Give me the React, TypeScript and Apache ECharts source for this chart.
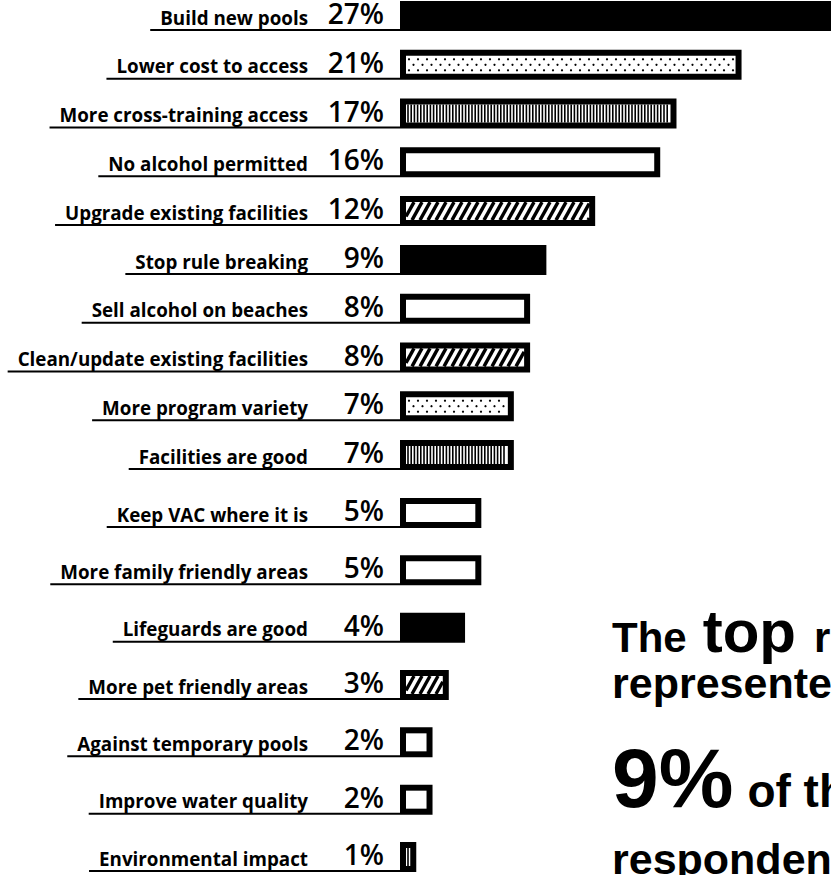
import React, { useEffect, useRef } from "react";
import * as echarts from "echarts";

// ---- data ----
const topCategories = [
  "Build new pools",
  "Lower cost to access",
  "More cross-training access",
  "No alcohol permitted",
  "Upgrade existing facilities",
  "Stop rule breaking",
  "Sell alcohol on beaches",
  "Clean/update existing facilities",
  "More program variety",
  "Facilities are good",
];
const topValues = [27, 21, 17, 16, 12, 9, 8, 8, 7, 7];
const topPatterns = ["solid", "dots", "stripes", "open", "hatch", "solid", "open", "hatch", "dots", "stripes"];

const bottomCategories = [
  "Keep VAC where it is",
  "More family friendly areas",
  "Lifeguards are good",
  "More pet friendly areas",
  "Against temporary pools",
  "Improve water quality",
  "Environmental impact",
];
const bottomValues = [5, 5, 4, 3, 2, 2, 1];
const bottomPatterns = ["open", "open", "solid", "hatch", "open", "open", "stripes"];

const calloutLine1 = ["The", "top", "request"];
const calloutLine2 = "represented";
const calloutLine3 = ["9%", "of the"];
const calloutLine4 = "respondents";

// ---- styles ----
const LABEL_SIZE = 18.8;
const LABEL_FONT = `bold ${LABEL_SIZE}px "Open Sans"`;
const PCT_SIZE = 28;
const PCT_FONT = `600 ${PCT_SIZE}px "Open Sans"`;
const BAR_H = 30;
const BORDER = 6;

let measureCtx: CanvasRenderingContext2D | null = null;
function textWidth(t: string, font: string): number {
  if (!measureCtx) measureCtx = document.createElement("canvas").getContext("2d");
  measureCtx!.font = font;
  return measureCtx!.measureText(t).width;
}

function patternChildren(kind: string, ix: number, iy: number, iw: number, ih: number) {
  const els: any[] = [];
  if (iw <= 0) return els;
  if (kind === "open" || kind === "dots" || kind === "stripes" || kind === "hatch") {
    els.push({ type: "rect", shape: { x: ix, y: iy, width: iw, height: ih }, style: { fill: "#fff" } });
  }
  if (kind === "dots") {
    const rows = [iy + 3.5, iy + 9, iy + 14.5];
    rows.forEach((ry, r) => {
      for (let cx = ix + 3 + (r % 2) * 4.5; cx <= ix + iw - 2; cx += 9) {
        els.push({ type: "circle", shape: { cx, cy: ry, r: 1.1 }, style: { fill: "#000" } });
      }
    });
  } else if (kind === "stripes") {
    for (let x = ix + 1.2; x + 1.6 <= ix + iw; x += 3.2) {
      els.push({ type: "rect", shape: { x, y: iy, width: 1.6, height: ih }, style: { fill: "#000" } });
    }
  } else if (kind === "hatch") {
    const dx = 10;
    for (let xb = ix - dx; xb < ix + iw; xb += 8) {
      const tl = Math.max(0, (ix - xb) / dx);
      const th = Math.min(1, (ix + iw - xb) / dx);
      if (tl >= th) continue;
      els.push({
        type: "line",
        shape: {
          x1: xb + dx * tl,
          y1: iy + ih - ih * tl,
          x2: xb + dx * th,
          y2: iy + ih - ih * th,
        },
        style: { stroke: "#000", lineWidth: 3.4 },
      });
    }
  }
  return els;
}

function makeRender(categories: string[], patterns: string[]) {
  return (params: any, api: any) => {
    const i = params.dataIndex;
    const v = api.value(0);
    const p0 = api.coord([0, i]);
    const p1 = api.coord([v, i]);
    const x0 = p0[0];
    const yc = p0[1];
    const w = p1[0] - x0;
    const top = yc - BAR_H / 2;
    const bottom = yc + BAR_H / 2;
    const label = categories[i];
    const labelRight = x0 - 92;
    const pctRight = x0 - 16;
    const lw = textWidth(label, LABEL_FONT);
    const children: any[] = [
      {
        type: "line",
        shape: { x1: labelRight - lw - 10, y1: bottom - 1, x2: x0, y2: bottom - 1 },
        style: { stroke: "#000", lineWidth: 2 },
      },
      {
        type: "text",
        style: {
          text: label,
          x: labelRight,
          y: bottom - 6 - 0.39 * LABEL_SIZE,
          align: "right",
          verticalAlign: "middle",
          font: LABEL_FONT,
          fill: "#000",
        },
      },
      {
        type: "text",
        style: {
          text: v + "%",
          x: pctRight,
          y: bottom - 7 - 0.39 * PCT_SIZE,
          align: "right",
          verticalAlign: "middle",
          font: PCT_FONT,
          fill: "#000",
        },
      },
      { type: "rect", shape: { x: x0, y: top, width: w, height: BAR_H }, style: { fill: "#000" } },
      ...patternChildren(patterns[i], x0 + BORDER, top + BORDER, w - 2 * BORDER, BAR_H - 2 * BORDER),
    ];
    return { type: "group", children };
  };
}

function calloutGraphics() {
  const F = "Liberation Sans, Arial, sans-serif";
  const els: any[] = [];
  const x = 612;
  const put = (text: string, px: number, baseline: number, size: number, gap: number) => {
    els.push({
      type: "text",
      x: px,
      y: baseline - 0.35 * size,
      style: {
        text,
        font: `bold ${size}px ${F}`,
        fill: "#000",
        align: "left",
        verticalAlign: "middle",
      },
    });
    return px + textWidth(text, `bold ${size}px ${F}`) + gap;
  };
  let cx = put(calloutLine1[0], x, 652, 42, 16);
  cx = put(calloutLine1[1], cx, 652, 60, 18);
  put(calloutLine1[2], cx, 652, 42, 0);
  put(calloutLine2, x, 698, 43, 0);
  cx = put(calloutLine3[0], x, 807, 84, 14);
  put(calloutLine3[1], cx, 807, 46, 0);
  put(calloutLine4, x, 874, 43, 0);
  return els;
}

export default function App() {
  const ref = useRef<HTMLDivElement>(null);
  useEffect(() => {
    if (!ref.current) return;
    const chart = echarts.init(ref.current, undefined, { renderer: "svg" });
    const XMAX = 26.5;
    chart.setOption({
      animation: false,
      backgroundColor: "#fff",
      grid: [
        { left: 400, width: 431, top: 16, height: 439 },
        { left: 400, width: 431, top: 513, height: 344 },
      ],
      xAxis: [
        { gridIndex: 0, type: "value", min: 0, max: XMAX, show: false },
        { gridIndex: 1, type: "value", min: 0, max: XMAX, show: false },
      ],
      yAxis: [
        { gridIndex: 0, type: "category", data: topCategories, inverse: true, boundaryGap: false, show: false },
        { gridIndex: 1, type: "category", data: bottomCategories, inverse: true, boundaryGap: false, show: false },
      ],
      series: [
        {
          type: "custom",
          xAxisIndex: 0,
          yAxisIndex: 0,
          renderItem: makeRender(topCategories, topPatterns),
          encode: { x: 0, y: 1 },
          data: topValues.map((v, i) => [v, i]),
        },
        {
          type: "custom",
          xAxisIndex: 1,
          yAxisIndex: 1,
          renderItem: makeRender(bottomCategories, bottomPatterns),
          encode: { x: 0, y: 1 },
          data: bottomValues.map((v, i) => [v, i]),
        },
      ],
      graphic: calloutGraphics(),
    });
    return () => chart.dispose();
  }, []);
  return (
    <div
      ref={ref}
      style={{ position: "absolute", left: 0, top: 0, width: 831, height: 875, background: "#fff" }}
    />
  );
}
